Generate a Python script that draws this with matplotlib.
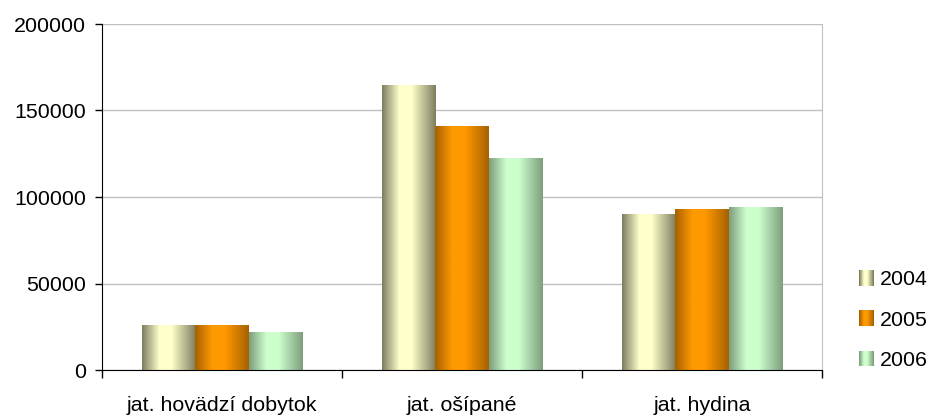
import numpy as np
import matplotlib
matplotlib.use("Agg")
import matplotlib.pyplot as plt
from matplotlib.colors import to_rgb
from matplotlib.legend_handler import HandlerBase
from matplotlib.patches import Rectangle

categories = ["jat. hovädzí dobytok", "jat. ošípané", "jat. hydina"]
years = ["2004", "2005", "2006"]
values_2004 = [25500, 164700, 89600]
values_2005 = [26000, 140500, 92500]
values_2006 = [21400, 122500, 94200]
yticks = [0, 50000, 100000, 150000, 200000]

light_colors = ["#FFFFCC", "#FF9900", "#CCFFCC"]
dark_colors = ["#7F7F60", "#A86200", "#7F9F7F"]

plt.rcParams['font.family'] = ['Liberation Sans', 'DejaVu Sans']
FS = 15.4

knots_t = [0.0, 0.32, 0.55, 1.0]
knots_v = [0.0, 1.0, 1.0, 0.0]


def gradient_colors(light, dark, n):
    t = np.linspace(0, 1, n)
    v = np.interp(t, knots_t, knots_v)
    l = np.array(to_rgb(light))
    d = np.array(to_rgb(dark))
    return d[None, :] + (l - d)[None, :] * v[:, None]


fig = plt.figure(figsize=(9.32, 4.19), dpi=100)
ax = fig.add_axes([102 / 932, 49 / 419, 720 / 932, 346 / 419])

x = np.arange(len(categories))
width = 2 / 9
series = [values_2004, values_2005, values_2006]
for i, vals in enumerate(series):
    bars = ax.bar(x + (i - 1) * width, vals, width, color=light_colors[i],
                  linewidth=0, zorder=2)
    grad = gradient_colors(light_colors[i], dark_colors[i], 64)[None, :, :]
    for b in bars:
        bx, bw, bh = b.get_x(), b.get_width(), b.get_height()
        ax.imshow(grad, extent=[bx, bx + bw, 0, bh], aspect='auto',
                  interpolation='bilinear', zorder=3)

ax.set_xlim(-0.5, 2.5)
ax.set_ylim(0, 200000)
ax.set_yticks(yticks)
ax.set_yticklabels([str(v) for v in yticks])
ax.set_xticks(x)
ax.set_xticklabels(categories)
ax.set_xticks([-0.5, 0.5, 1.5, 2.5], minor=True)
ax.tick_params(axis='x', which='major', length=0, pad=19, labelsize=FS)
ax.tick_params(axis='x', which='minor', length=6, width=1, color='black', direction='out')
ax.tick_params(axis='y', length=5, width=1, color='black', pad=6.5, labelsize=FS)

ax.set_axisbelow(True)
ax.yaxis.grid(True, color='#C0C0C0', linewidth=1)
ax.spines['top'].set_visible(False)
ax.spines['right'].set_color('#C0C0C0')
ax.spines['left'].set_color('black')
ax.spines['bottom'].set_color('black')
ax.spines['bottom'].set_zorder(5)


class GradHandler(HandlerBase):
    def __init__(self, light, dark):
        super().__init__()
        self.light = light
        self.dark = dark

    def create_artists(self, legend, orig_handle, xdescent, ydescent,
                       width, height, fontsize, trans):
        n = 15
        cols = gradient_colors(self.light, self.dark, n)
        arts = []
        w = width / n
        for k in range(n):
            r = Rectangle((-xdescent + k * w, -ydescent), w * 1.02, height,
                          facecolor=cols[k], edgecolor='none', transform=trans)
            arts.append(r)
        return arts


handles = [Rectangle((0, 0), 1, 1, color=c) for c in light_colors]
hmap = {h: GradHandler(light_colors[i], dark_colors[i]) for i, h in enumerate(handles)}
leg = fig.legend(handles, years, handler_map=hmap, loc='center left',
                 bbox_to_anchor=(859 / 932, 1 - 320 / 419), frameon=False,
                 fontsize=FS, handlelength=0.7, handleheight=0.75,
                 handletextpad=0.28, labelspacing=0.98, borderpad=0,
                 borderaxespad=0)

fig.savefig("out.png", dpi=100)
